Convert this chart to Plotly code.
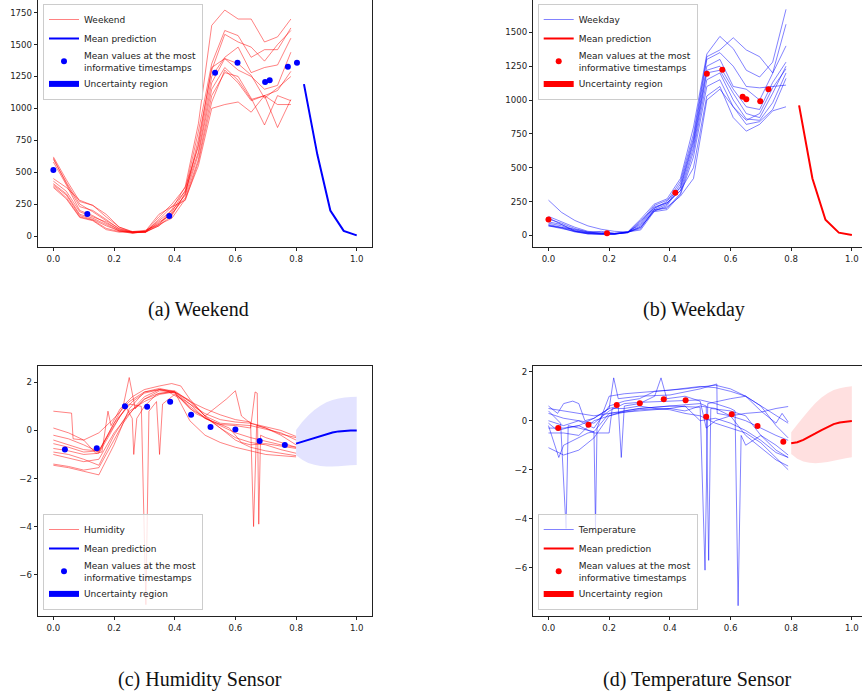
import plotly.graph_objects as go

# ---------------- data ----------------
t_obs = [0.000, 0.043, 0.087, 0.130, 0.174, 0.217, 0.261, 0.304, 0.348, 0.391,
         0.435, 0.478, 0.522, 0.565, 0.609, 0.652, 0.696, 0.739, 0.783]
t_pred = [0.826, 0.870, 0.913, 0.957, 1.000]

weekend_series = [
    [620, 440, 270, 240, 150, 70, 35, 30, 90, 210, 390, 880, 1650, 1770, 1700, 1700, 1520, 1560, 1700],
    [600, 420, 250, 190, 120, 60, 30, 35, 80, 190, 360, 820, 1350, 1610, 1570, 1400, 1460, 1460, 1630],
    [580, 400, 200, 160, 100, 50, 25, 30, 110, 170, 330, 760, 1300, 1580, 1520, 1480, 1370, 1500, 1610],
    [450, 380, 280, 240, 170, 70, 30, 35, 150, 250, 380, 700, 1250, 1400, 1480, 1280, 1320, 1340, 1550],
    [430, 350, 190, 150, 110, 45, 30, 30, 130, 230, 350, 660, 1200, 1390, 1300, 1250, 1150, 1180, 1440],
    [410, 330, 170, 140, 90, 40, 25, 35, 120, 200, 320, 640, 1150, 1320, 1220, 1070, 1100, 1140, 1290],
    [400, 320, 160, 130, 80, 40, 20, 40, 100, 180, 300, 600, 1100, 1280, 1250, 1080, 870, 1100, 1060],
    [390, 300, 150, 125, 60, 35, 30, 40, 170, 230, 280, 580, 1050, 1300, 1200, 1060, 1100, 850, 1070],
    [380, 290, 145, 120, 50, 30, 35, 45, 90, 140, 290, 550, 1000, 1030, 1050, 970, 1100, 1030, 1030],
    [610, 410, 230, 200, 130, 55, 30, 30, 80, 160, 340, 720, 1320, 1390, 1350, 1260, 1080, 1160, 1250],
]
weekend_pred = [1190, 640, 200, 40, 5]
weekend_dots_x = [0.0, 0.112, 0.382, 0.533, 0.607, 0.698, 0.713, 0.773, 0.803]
weekend_dots_y = [517, 172, 157, 1280, 1358, 1207, 1220, 1327, 1358]

weekday_series = [
    [260, 170, 110, 70, 45, 30, 25, 120, 230, 270, 420, 800, 1340, 1470, 1380, 1220, 1170, 1280, 1670],
    [140, 100, 60, 30, 20, 15, 25, 80, 200, 250, 400, 750, 1320, 1370, 1460, 1370, 1320, 1200, 1560],
    [120, 90, 50, 25, 15, 10, 20, 70, 190, 230, 380, 720, 1300, 1350, 1250, 1100, 1090, 1100, 1110],
    [100, 80, 40, 20, 12, 10, 20, 60, 180, 220, 360, 700, 1250, 1300, 1100, 1080, 1000, 1200, 1400],
    [90, 70, 35, 15, 10, 10, 20, 100, 220, 260, 350, 680, 1220, 1250, 1080, 950, 930, 1130, 1280],
    [80, 60, 30, 15, 10, 8, 22, 90, 210, 240, 330, 650, 1200, 1220, 1050, 900, 870, 1050, 1250],
    [75, 55, 25, 12, 8, 10, 25, 50, 190, 200, 310, 620, 1150, 1200, 1000, 860, 850, 980, 1200],
    [70, 50, 28, 10, 10, 12, 25, 40, 175, 190, 300, 580, 1100, 1150, 950, 820, 840, 930, 1160],
    [70, 60, 45, 25, 15, 12, 22, 110, 200, 240, 330, 500, 1030, 1100, 870, 770, 820, 920, 950],
    [130, 80, 30, 20, 30, 15, 25, 60, 180, 210, 290, 420, 1000, 1080, 950, 850, 900, 1090, 1230],
]
weekday_pred = [960, 420, 115, 20, 2]
weekday_dots_x = [0.0, 0.193, 0.418, 0.522, 0.573, 0.640, 0.652, 0.698, 0.725]
weekday_dots_y = [118, 15, 315, 1195, 1224, 1025, 1005, 990, 1079]

hum_x = [
    [0, 0.06, 0.065, 0.1, 0.15, 0.2, 0.25, 0.3, 0.35, 0.4, 0.45, 0.5, 0.55, 0.6, 0.65, 0.7, 0.75, 0.8],
    [0, 0.05, 0.1, 0.14, 0.16, 0.18, 0.19, 0.22, 0.26, 0.3, 0.35, 0.39, 0.42, 0.45, 0.5, 0.55, 0.6, 0.65, 0.7, 0.75, 0.8],
    [0, 0.05, 0.1, 0.15, 0.2, 0.23, 0.25, 0.27, 0.3, 0.35, 0.4, 0.45, 0.5, 0.55, 0.6, 0.65, 0.7, 0.75, 0.8],
    [0, 0.05, 0.1, 0.15, 0.2, 0.24, 0.26, 0.265, 0.275, 0.3, 0.34, 0.38, 0.42, 0.47, 0.52, 0.58, 0.62, 0.65, 0.7, 0.75, 0.8],
    [0, 0.05, 0.1, 0.15, 0.2, 0.25, 0.29, 0.305, 0.315, 0.34, 0.35, 0.36, 0.4, 0.45, 0.5, 0.55, 0.6, 0.65, 0.665, 0.672, 0.677, 0.683, 0.7, 0.75, 0.8],
    [0, 0.05, 0.1, 0.15, 0.18, 0.22, 0.26, 0.3, 0.35, 0.4, 0.45, 0.5, 0.55, 0.6, 0.65, 0.66, 0.67, 0.7, 0.75, 0.8],
    [0, 0.05, 0.1, 0.15, 0.2, 0.25, 0.3, 0.35, 0.4, 0.45, 0.5, 0.55, 0.6, 0.65, 0.7, 0.75, 0.8],
    [0, 0.05, 0.1, 0.15, 0.2, 0.23, 0.27, 0.3, 0.35, 0.4, 0.45, 0.5, 0.53, 0.57, 0.6, 0.62, 0.65, 0.7, 0.75, 0.8],
    [0, 0.05, 0.1, 0.15, 0.2, 0.25, 0.3, 0.35, 0.4, 0.45, 0.5, 0.55, 0.6, 0.65, 0.7, 0.75, 0.8],
    [0, 0.05, 0.1, 0.15, 0.2, 0.25, 0.3, 0.35, 0.4, 0.45, 0.5, 0.55, 0.6, 0.65, 0.7, 0.75, 0.8],
]
hum_y = [
    [0.8, 0.72, -0.35, -0.4, -0.1, 0.5, 1.2, 1.6, 1.75, 1.6, 1.1, 0.7, 0.45, 0.35, 0.3, 0.15, 0.0, -0.25],
    [0.1, -0.1, -0.4, -0.95, -0.9, 0.8, 0.2, 0.9, 1.4, 1.7, 1.85, 1.95, 1.85, 1.3, 0.6, 0.3, 0.25, 0.2, 0.05, -0.1, -0.4],
    [-0.2, -0.35, -0.6, -0.9, 0.3, 1.0, 2.2, 0.9, 1.3, 1.55, 1.6, 1.25, 0.6, 0.1, -0.4, -0.7, -0.85, -0.95, -1.05],
    [-0.4, -0.6, -0.8, -0.85, 0.2, 0.95, 0.5, -1.0, 0.5, 1.0, 1.5, 1.6, 1.3, 0.7, 0.4, 0.1, -0.5, -0.6, -0.55, -0.65, -0.75],
    [-0.55, -0.7, -0.9, -0.85, 0.3, 1.1, 1.0, -7.25, 0.8, 1.2, -1.0, 1.1, 1.5, 1.1, 0.5, 0.25, 0.2, 0.1, 1.6, 1.55, -3.9, -0.2, -0.3, -0.5, -0.7],
    [-0.75, -0.85, -1.0, -0.95, -0.3, 0.6, 1.2, 1.55, 1.7, 1.65, 1.2, 0.9, 0.65, 0.45, 0.35, -4.0, 0.2, 0.1, -0.15, -0.3],
    [-1.0, -1.15, -1.3, -1.2, -0.1, 0.7, 1.3, 1.65, 1.6, 0.4, -0.2, -0.5, -0.7, -0.85, -1.0, -1.05, -1.1],
    [-1.4, -1.5, -1.65, -1.55, -0.4, 0.3, 1.0, 1.4, 1.7, 1.6, 1.2, 0.6, 0.9, 1.3, 1.65, 0.6, 0.3, 0.1, -0.2, -0.6],
    [-1.45, -1.55, -1.7, -1.85, -0.6, 0.9, 1.6, 1.7, 1.55, 1.0, 0.5, 0.2, -0.1, -0.3, -0.45, -0.6, -0.7],
    [-0.9, -1.0, -1.2, -1.45, -0.2, 0.8, 1.2, 1.5, 1.6, 0.9, 0.55, 0.1, -0.3, -0.5, -0.6, -0.8, -0.95],
]
hum_pred_x = [0.80, 0.82, 0.84, 0.86, 0.88, 0.90, 0.92, 0.94, 0.96, 0.98, 1.00]
hum_pred = [-0.55, -0.47, -0.39, -0.31, -0.23, -0.16, -0.09, -0.04, -0.01, 0.0, 0.0]
hum_upper = [0.02, 0.35, 0.62, 0.85, 1.03, 1.17, 1.27, 1.33, 1.37, 1.39, 1.40]
hum_lower = [-1.03, -1.22, -1.35, -1.43, -1.48, -1.50, -1.50, -1.49, -1.47, -1.45, -1.44]
hum_dots_x = [0.038, 0.143, 0.236, 0.309, 0.385, 0.454, 0.518, 0.600, 0.680, 0.763]
hum_dots_y = [-0.79, -0.74, 1.01, 0.99, 1.19, 0.65, 0.14, 0.04, -0.44, -0.61]

temp_x = [
    [0, 0.03, 0.05, 0.08, 0.1, 0.12, 0.15, 0.2, 0.215, 0.23, 0.3, 0.4, 0.5, 0.555, 0.556, 0.6, 0.65, 0.7, 0.75, 0.79],
    [0, 0.04, 0.058, 0.065, 0.1, 0.15, 0.155, 0.16, 0.2, 0.25, 0.35, 0.45, 0.55, 0.6, 0.65, 0.7, 0.75, 0.79],
    [0, 0.03, 0.06, 0.1, 0.15, 0.2, 0.23, 0.24, 0.25, 0.3, 0.35, 0.371, 0.39, 0.45, 0.5, 0.52, 0.55, 0.6, 0.65, 0.7, 0.75, 0.79],
    [0, 0.034, 0.05, 0.1, 0.13, 0.15, 0.2, 0.3, 0.4, 0.5, 0.516, 0.525, 0.6, 0.65, 0.7, 0.75, 0.79],
    [0, 0.05, 0.1, 0.15, 0.2, 0.25, 0.3, 0.4, 0.5, 0.52, 0.528, 0.535, 0.6, 0.65, 0.7, 0.75, 0.79],
    [0, 0.05, 0.1, 0.15, 0.2, 0.25, 0.3, 0.4, 0.5, 0.55, 0.6, 0.615, 0.625, 0.635, 0.65, 0.7, 0.75, 0.79],
    [0, 0.05, 0.1, 0.15, 0.2, 0.25, 0.3, 0.35, 0.4, 0.5, 0.55, 0.6, 0.65, 0.7, 0.75, 0.77, 0.79],
    [0, 0.05, 0.1, 0.15, 0.2, 0.21, 0.25, 0.3, 0.35, 0.4, 0.45, 0.5, 0.55, 0.6, 0.65, 0.7, 0.75, 0.79],
    [0, 0.05, 0.1, 0.15, 0.2, 0.3, 0.4, 0.45, 0.5, 0.55, 0.6, 0.65, 0.7, 0.75, 0.79],
    [0, 0.05, 0.1, 0.15, 0.2, 0.25, 0.3, 0.4, 0.45, 0.5, 0.55, 0.6, 0.65, 0.7, 0.75, 0.79],
]
temp_y = [
    [0.6, 0.3, 0.7, 0.8, 0.7, 0.0, 0.1, 0.5, 1.75, 0.9, 1.0, 1.05, 1.3, 1.5, 0.3, 0.2, 0.3, 0.35, 0.5, 0.58],
    [0.4, -0.1, -4.4, -0.2, -0.3, -0.45, -4.4, -0.3, 1.0, 1.1, 1.2, 1.3, 1.45, 1.3, 1.0, 0.6, 0.2, -0.1],
    [-0.1, -0.4, -0.3, -0.2, 0.1, 0.5, 0.6, -1.5, 0.6, 0.7, 1.0, 1.75, 0.9, 1.0, 0.8, -0.3, 0.0, 0.2, 0.0, -0.3, -0.6, -0.8],
    [-0.2, -1.5, -1.0, -0.7, -0.5, -0.45, 0.3, 0.5, 0.6, 0.55, -6.1, 0.7, 0.9, 1.0, 0.6, -0.2, -0.7],
    [-1.1, -1.4, -1.2, -0.7, 0.2, 0.4, 0.5, 0.6, 0.7, 0.6, -5.7, 0.5, 0.4, 0.2, -0.6, -1.2, -1.5],
    [0.0, -0.2, 0.0, -0.1, 0.4, 0.7, 0.75, 0.8, 0.85, 0.7, 0.5, 0.4, -7.55, -0.6, -1.0, -0.6, -1.0, -1.4],
    [0.3, 0.1, 0.0, -0.3, 0.6, 0.8, 0.9, 1.2, 1.25, 1.4, 1.35, 1.2, 1.0, 0.4, -0.1, 0.3, -0.05],
    [-0.3, -0.3, -0.2, -0.5, -0.5, 0.5, 0.5, 0.6, 0.5, 0.45, 0.3, 0.2, -0.1, -0.3, -0.5, -0.9, -1.5, -2.0],
    [0.5, 0.4, 0.3, 0.2, 0.3, 0.4, 0.5, 0.6, 0.0, 0.1, -0.1, -0.4, -0.8, -1.3, -1.5],
    [-0.5, -0.5, -0.6, 0.0, 0.2, 0.35, 0.45, 0.5, 0.4, 0.6, 0.5, 0.2, -0.6, -1.1, -1.6, -1.85],
]
temp_pred_x = [0.80, 0.82, 0.84, 0.86, 0.88, 0.90, 0.92, 0.94, 0.96, 0.98, 1.00]
temp_pred = [-0.92, -0.88, -0.78, -0.66, -0.52, -0.38, -0.25, -0.14, -0.07, -0.03, -0.01]
temp_upper = [-0.47, -0.15, 0.15, 0.45, 0.72, 0.95, 1.12, 1.25, 1.33, 1.38, 1.41]
temp_lower = [-1.36, -1.55, -1.66, -1.72, -1.74, -1.72, -1.68, -1.63, -1.58, -1.53, -1.49]
temp_dots_x = [0.032, 0.132, 0.225, 0.301, 0.380, 0.452, 0.520, 0.604, 0.689, 0.774]
temp_dots_y = [-0.30, -0.16, 0.64, 0.71, 0.88, 0.84, 0.16, 0.26, -0.22, -0.86]

captions = ["(a) Weekend", "(b) Weekday", "(c) Humidity Sensor", "(d) Temperature Sensor"]
LEG_DOTS = "Mean values at the most<br>informative timestamps"

# ---------------- figure ----------------
W, H = 862, 698
RED_T = "rgba(255,0,0,0.55)"
BLUE_T = "rgba(0,0,255,0.55)"

fig = go.Figure()


def add_panel(idx, xs_list, ys_list, name, line_col, pred_x, pred_y, pred_col,
              dots_x, dots_y, band=None, band_col=None):
    ax = "" if idx == 1 else str(idx)
    xa, ya = "x" + ax, "y" + ax
    leg = "legend" + ax
    for k, (xs, ys) in enumerate(zip(xs_list, ys_list)):
        fig.add_trace(go.Scatter(x=xs, y=ys, mode="lines", name=name,
                                 line=dict(color=line_col, width=0.9),
                                 showlegend=(k == 0), legendrank=1,
                                 xaxis=xa, yaxis=ya, legend=leg))
    if band is not None:
        up, lo = band
        fig.add_trace(go.Scatter(x=pred_x + pred_x[::-1], y=up + lo[::-1],
                                 mode="none", fill="toself", fillcolor=band_col,
                                 showlegend=False, xaxis=xa, yaxis=ya, legend=leg))
    fig.add_trace(go.Scatter(x=pred_x, y=pred_y, mode="lines", name="Mean prediction",
                             line=dict(color=pred_col, width=2), legendrank=2,
                             xaxis=xa, yaxis=ya, legend=leg))
    fig.add_trace(go.Scatter(x=dots_x, y=dots_y, mode="markers", name=LEG_DOTS,
                             marker=dict(color=pred_col, size=6), legendrank=3,
                             xaxis=xa, yaxis=ya, legend=leg))
    fig.add_trace(go.Scatter(x=[None], y=[None], mode="none", fill="toself",
                             fillcolor=pred_col, name="Uncertainty region", legendrank=4,
                             xaxis=xa, yaxis=ya, legend=leg))


add_panel(1, [t_obs] * len(weekend_series), weekend_series, "Weekend", RED_T,
          t_pred, weekend_pred, "#0000ff", weekend_dots_x, weekend_dots_y)
add_panel(2, [t_obs] * len(weekday_series), weekday_series, "Weekday", BLUE_T,
          t_pred, weekday_pred, "#ff0000", weekday_dots_x, weekday_dots_y)
add_panel(3, hum_x, hum_y, "Humidity", RED_T,
          hum_pred_x, hum_pred, "#0000ff", hum_dots_x, hum_dots_y,
          band=(hum_upper, hum_lower), band_col="rgba(0,0,255,0.11)")
add_panel(4, temp_x, temp_y, "Temperature", BLUE_T,
          temp_pred_x, temp_pred, "#ff0000", temp_dots_x, temp_dots_y,
          band=(temp_upper, temp_lower), band_col="rgba(255,0,0,0.12)")

tickfont = dict(family="DejaVu Sans", size=8.6, color="#222")
axis_common = dict(showgrid=False, zeroline=False, showline=True, linecolor="#222",
                   linewidth=0.9, mirror=True, ticks="outside", ticklen=3.5,
                   tickwidth=0.9, tickcolor="#222", tickfont=tickfont, automargin=False)


def px_x(a, b):
    return [a / W, min(b / W, 1.0)]


def px_y(top, bot):
    return [1 - bot / H, 1 - top / H]


# panel geometry (pixels)
L_left, L_right = 38.2, 371.9
R_left, R_right = 533.3, 862.0
T_top, T_bot = 0.0, 247.0
B_top, B_bot = 366.0, 616.0

xr_left = [-0.05, 1.05]
xr_right = [-0.05, -0.05 + (R_right - R_left) / 303.4]

xcommon = dict(axis_common, tick0=0, dtick=0.2, tickformat=".1f")
fig.update_layout(
    xaxis=dict(xcommon, domain=px_x(L_left, L_right), range=xr_left, anchor="y"),
    yaxis=dict(axis_common, domain=px_y(T_top, T_bot), range=[-86, 1849], tick0=0, dtick=250, anchor="x"),
    xaxis2=dict(xcommon, domain=px_x(R_left, R_right), range=xr_right, anchor="y2"),
    yaxis2=dict(axis_common, domain=px_y(T_top, T_bot), range=[-86, 1739], tick0=0, dtick=250, anchor="x2"),
    xaxis3=dict(xcommon, domain=px_x(L_left, L_right), range=xr_left, anchor="y3"),
    yaxis3=dict(axis_common, domain=px_y(B_top, B_bot), range=[-7.72, 2.68], tick0=0, dtick=2, anchor="x3"),
    xaxis4=dict(xcommon, domain=px_x(R_left, R_right), range=xr_right, anchor="y4"),
    yaxis4=dict(axis_common, domain=px_y(B_top, B_bot), range=[-7.97, 2.234], tick0=0, dtick=2, anchor="x4"),
)

legfont = dict(family="DejaVu Sans", size=9, color="#222")
legcommon = dict(font=legfont, bgcolor="rgba(255,255,255,0.8)", bordercolor="#cccccc",
                 borderwidth=1, xanchor="left", traceorder="normal", itemwidth=30)
fig.update_layout(
    legend=dict(legcommon, x=43 / W, y=1 - 4 / H, yanchor="top"),
    legend2=dict(legcommon, x=537.7 / W, y=1 - 4 / H, yanchor="top"),
    legend3=dict(legcommon, x=43 / W, y=1 - 610 / H, yanchor="bottom"),
    legend4=dict(legcommon, x=537.7 / W, y=1 - 610 / H, yanchor="bottom"),
)

cap_pos = [(198, 309), (694, 309), (200, 679), (697, 679)]
for text, (cx, cy) in zip(captions, cap_pos):
    fig.add_annotation(text=text, x=cx / W, y=1 - cy / H, xref="paper", yref="paper",
                       showarrow=False, xanchor="center", yanchor="middle",
                       font=dict(family="Liberation Serif", size=20, color="#111"))

fig.update_layout(width=W, height=H, margin=dict(l=0, r=0, t=0, b=0, autoexpand=False),
                  paper_bgcolor="white", plot_bgcolor="white")

fig.write_html("out.html", config={"displayModeBar": False},
               post_script="document.body.style.margin='0';document.body.style.overflow='hidden';")
